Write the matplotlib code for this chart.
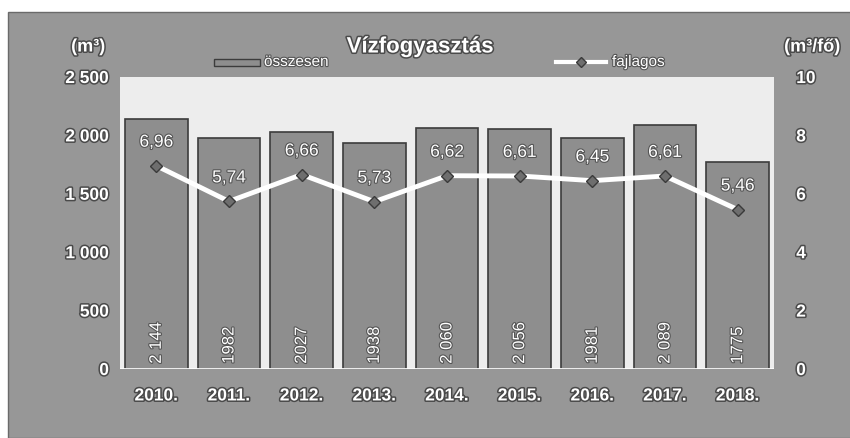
import matplotlib
matplotlib.use("Agg")
import matplotlib.pyplot as plt
import matplotlib.patheffects as pe
from matplotlib.patches import Rectangle
from matplotlib.lines import Line2D

plt.rcParams["font.family"] = ["Liberation Sans", "DejaVu Sans"]

years = ["2010.", "2011.", "2012.", "2013.", "2014.", "2015.", "2016.", "2017.", "2018."]
total = [2144, 1982, 2027, 1938, 2060, 2056, 1981, 2089, 1775]
total_labels = ["2 144", "1982", "2027", "1938", "2 060", "2 056", "1981", "2 089", "1775"]
specific = [6.96, 5.74, 6.66, 5.73, 6.62, 6.61, 6.45, 6.61, 5.46]
specific_labels = ["6,96", "5,74", "6,66", "5,73", "6,62", "6,61", "6,45", "6,61", "5,46"]
left_ticks = [0, 500, 1000, 1500, 2000, 2500]
left_tick_labels = ["0", "500", "1 000", "1 500", "2 000", "2 500"]
right_ticks = [0, 2, 4, 6, 8, 10]

W, H = 850, 438
fig = plt.figure(figsize=(8.5, 4.38), dpi=100)
fig.patch.set_facecolor("white")

# gray panel
fig.patches.append(Rectangle((8 / W, 0), 1, 1 - 12 / H, transform=fig.transFigure,
                             facecolor="#979797", edgecolor="#6a6a6a", lw=1, zorder=-10))

ax = fig.add_axes([120 / W, 1 - 369 / H, 654 / W, 292 / H])
ax.set_facecolor("#ededed")
for s in ax.spines.values():
    s.set_visible(False)

outline = [pe.withStroke(linewidth=2.2, foreground="#4a4a4a")]
thin = [pe.withStroke(linewidth=1.6, foreground="#555555")]

x = list(range(len(years)))
ax.bar(x, total, width=0.86, color="#8e8e8e", edgecolor="#3c3c3c", linewidth=1.2, zorder=2)
ax.set_xlim(-0.5, len(years) - 0.5)
ax.set_ylim(0, 2500)
ax.set_yticks(left_ticks)
ax.set_yticklabels(left_tick_labels)
ax.set_xticks(x)
ax.set_xticklabels(years)
ax.tick_params(axis="both", length=0, colors="white", labelsize=12.5, pad=8)
ax.tick_params(axis="x", pad=14)
for lab in ax.get_xticklabels() + ax.get_yticklabels():
    lab.set_path_effects(outline)
    lab.set_fontweight("bold")
ax.axhline(0, color="white", lw=2, zorder=3)

for xi, v, lab in zip(x, total, total_labels):
    ax.text(xi, 45, lab, rotation=90, ha="center", va="bottom", color="white",
            fontsize=12, path_effects=thin, zorder=5)

ax2 = ax.twinx()
for s in ax2.spines.values():
    s.set_visible(False)
ax2.set_ylim(0, 10)
ax2.set_yticks(right_ticks)
ax2.tick_params(axis="y", length=0, colors="white", labelsize=12.5, pad=16)
for lab in ax2.get_yticklabels():
    lab.set_path_effects(outline)
    lab.set_fontweight("bold")
ax2.plot(x, specific, color="white", lw=3.5, marker="D", markersize=6,
         markerfacecolor="#6e6e6e", markeredgecolor="#3a3a3a", zorder=4)
for xi, v, lab in zip(x, specific, specific_labels):
    ax2.text(xi, v + 0.55, lab, ha="center", va="bottom", color="white", fontsize=12.5,
             path_effects=thin, zorder=5)

# titles / axis units
fig.text(420 / W, 1 - 47 / H, "Vízfogyasztás", ha="center", va="center", color="white",
         fontsize=16, fontweight="bold", path_effects=outline)
fig.text(88 / W, 1 - 47 / H, "(m³)", ha="center", va="center", color="white",
         fontsize=13, fontweight="bold", path_effects=outline)
fig.text(812 / W, 1 - 47 / H, "(m³/fő)", ha="center", va="center", color="white",
         fontsize=13, fontweight="bold", path_effects=outline)

# legend
fig.patches.append(Rectangle((214 / W, 1 - 66 / H), 46 / W, 7 / H, transform=fig.transFigure,
                             facecolor="#8e8e8e", edgecolor="#3c3c3c", lw=1))
fig.text(264 / W, 1 - 62 / H, "összesen", ha="left", va="center", color="white",
         fontsize=11, path_effects=thin)
fig.lines.append(Line2D([556 / W, 606 / W], [1 - 62 / H, 1 - 62 / H], transform=fig.transFigure,
                        color="white", lw=3))
fig.lines.append(Line2D([581 / W], [1 - 62 / H], transform=fig.transFigure, marker="D",
                        markersize=5, markerfacecolor="#6e6e6e", markeredgecolor="#3a3a3a", lw=0))
fig.text(612 / W, 1 - 62 / H, "fajlagos", ha="left", va="center", color="white",
         fontsize=11, path_effects=thin)

fig.savefig("out.png", dpi=100)
